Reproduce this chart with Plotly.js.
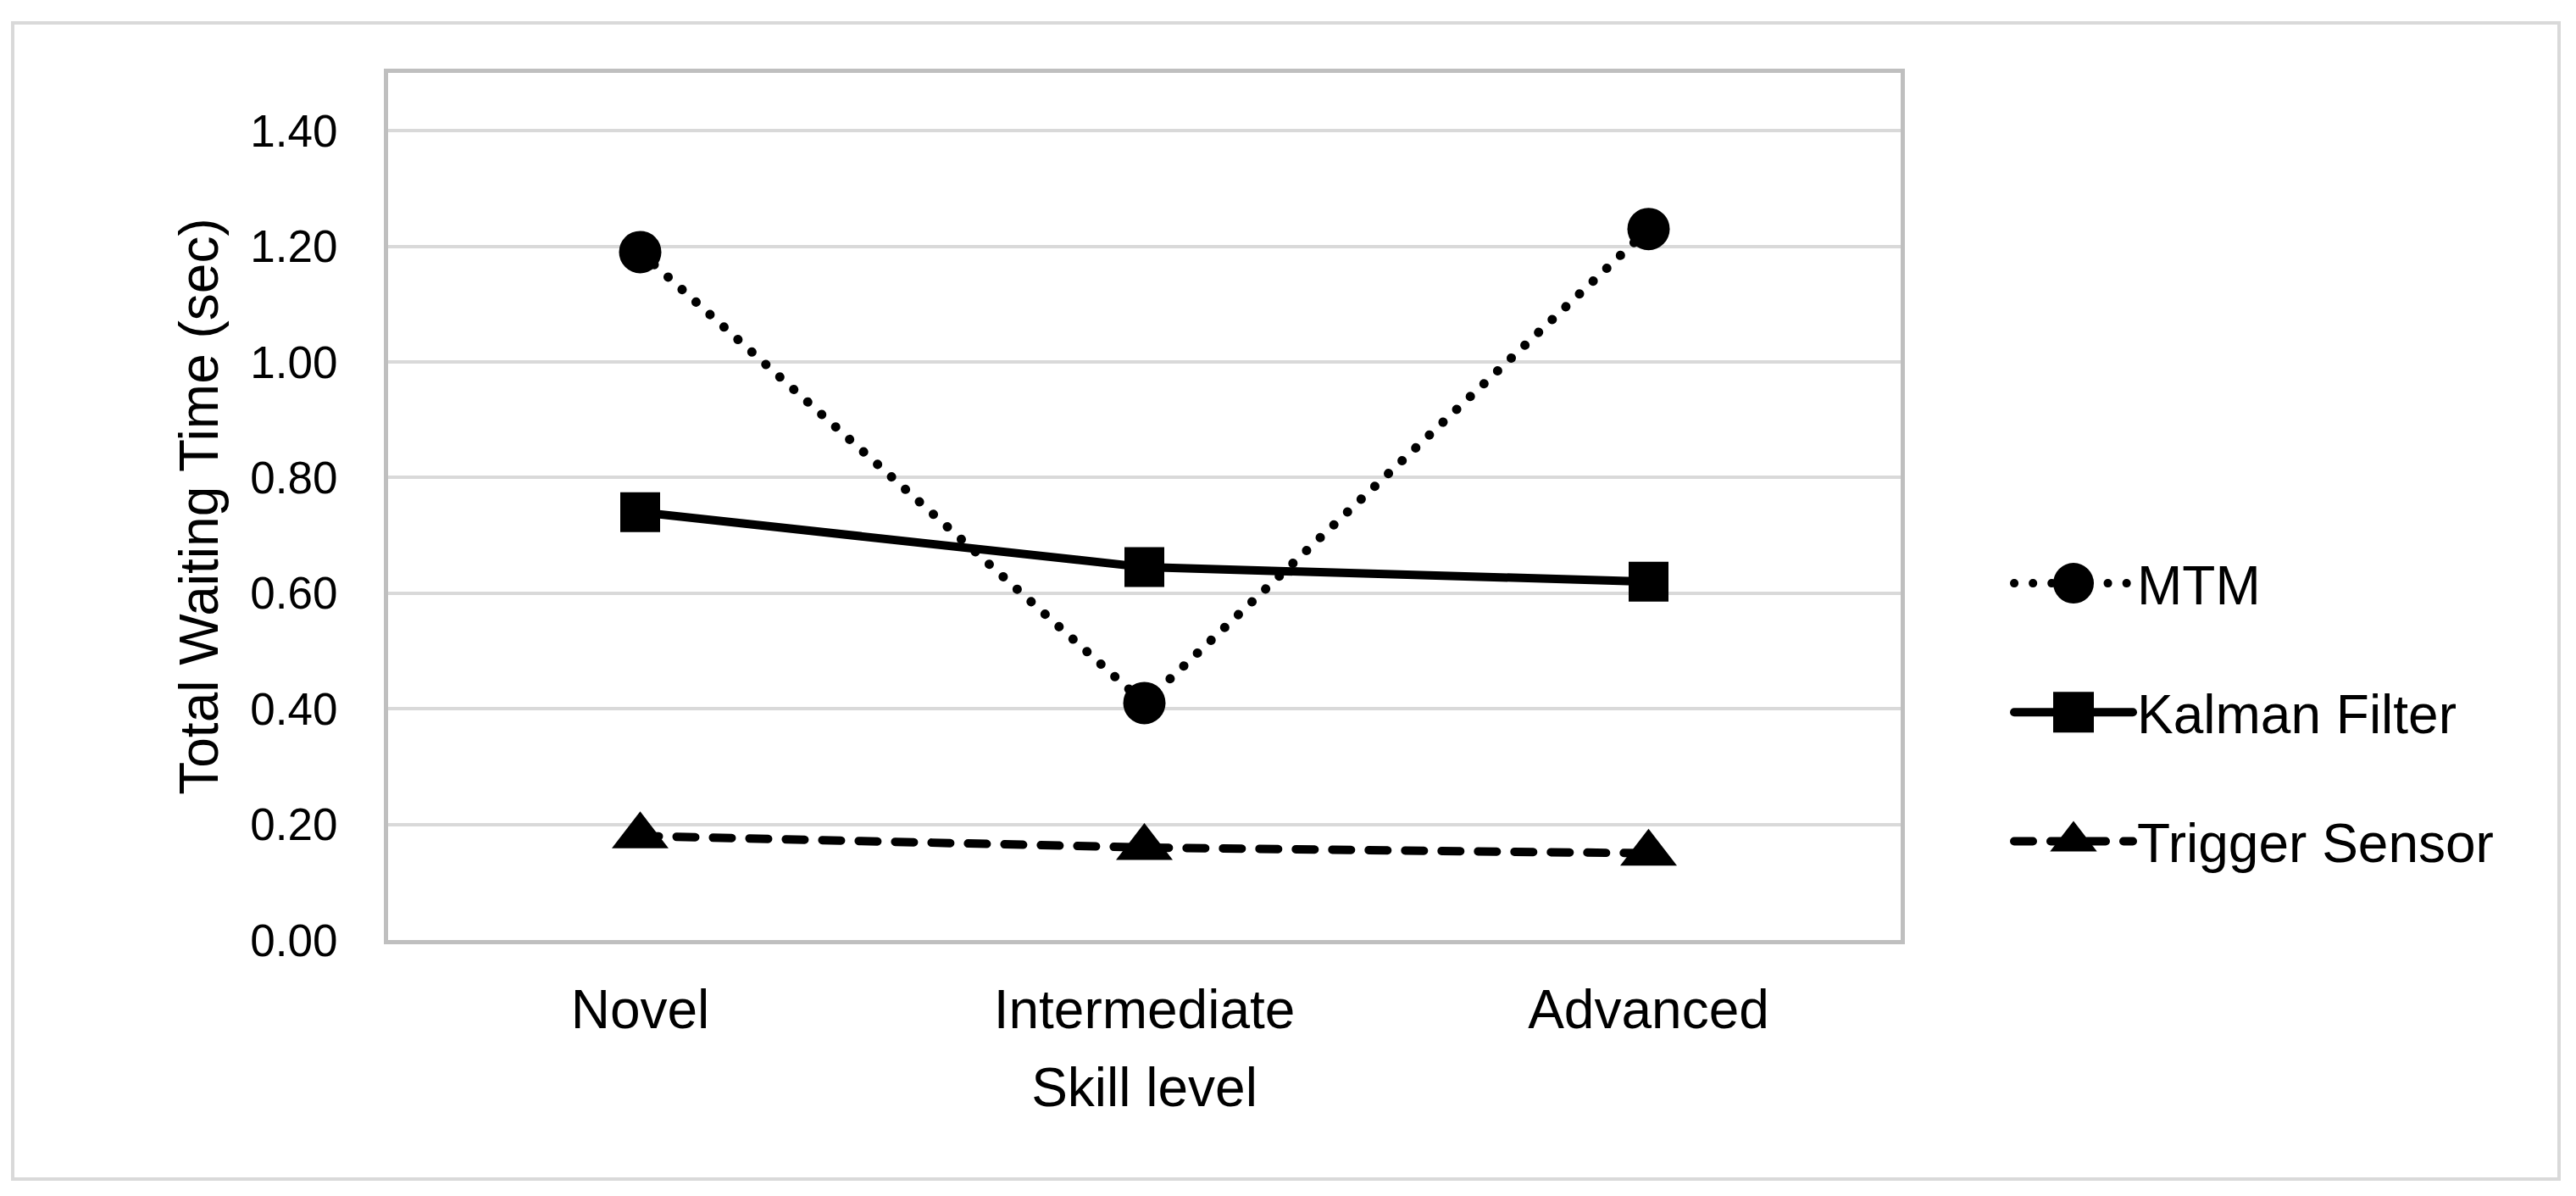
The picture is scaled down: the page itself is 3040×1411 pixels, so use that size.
<!DOCTYPE html>
<html><head><meta charset="utf-8">
<script src="https://cdn.plot.ly/plotly-3.0.1.min.js"></script>
<style>
html,body{margin:0;padding:0;background:#fff;}
#chart{width:3040px;height:1411px;}
.js-line{stroke-linecap:round;}
.legend .js-line{stroke-width:10px !important;}
</style></head>
<body><div id="chart"></div>
<script>
const categories = ["Novel", "Intermediate", "Advanced"];
const seriesNames = ["MTM", "Kalman Filter", "Trigger Sensor"];
const mtmValues = [1.19, 0.41, 1.23];
const kalmanValues = [0.74, 0.645, 0.62];
const triggerValues = [0.18, 0.16, 0.15];
const yTickValues = [0, 0.2, 0.4, 0.6, 0.8, 1.0, 1.2, 1.4];
const yTickLabels = ["0.00", "0.20", "0.40", "0.60", "0.80", "1.00", "1.20", "1.40"];
const xTitle = "Skill level";
const yTitle = "Total Waiting Time (sec)";

const W = 3040, H = 1411;
const plotL = 458, plotR = 2243, plotT = 86, plotB = 1109;
const pw = plotR - plotL, ph = plotB - plotT;
const px = v => (v - plotL) / pw;
const py = v => (plotB - v) / ph;
const FONT = "Liberation Sans, Arial, sans-serif";

const traces = [
  {x: categories, y: mtmValues, name: seriesNames[0], legendgroup: "a",
   mode: "lines+markers", line: {color: "#000", width: 11, dash: "0.1px,22px"},
   marker: {symbol: "circle", size: 50, color: "#000"}},
  {x: categories, y: kalmanValues, name: seriesNames[1], legendgroup: "b",
   mode: "lines+markers", line: {color: "#000", width: 10, dash: "solid"},
   marker: {symbol: "square", size: 47, color: "#000"}},
  {x: categories, y: triggerValues, name: seriesNames[2], legendgroup: "c",
   mode: "lines+markers", line: {color: "#000", width: 10, dash: "22px,21px"},
   marker: {symbol: "triangle-up", size: 58, color: "#000"}}
];

const layout = {
  width: W, height: H,
  paper_bgcolor: "#fff", plot_bgcolor: "#fff",
  margin: {l: plotL, r: W - plotR, t: plotT, b: H - plotB, pad: 0},
  font: {family: FONT, color: "#000", size: 64},
  showlegend: true,
  legend: {x: px(2372), y: py(640), xanchor: "left", yanchor: "top",
           font: {family: FONT, size: 64, color: "#000"},
           itemwidth: 140, tracegroupgap: 66, bgcolor: "rgba(0,0,0,0)"},
  xaxis: {type: "category", range: [-0.5, 2.5], showgrid: false, zeroline: false,
          showline: true, mirror: true, linecolor: "#bfbfbf", linewidth: 5,
          ticks: "", ticklabelstandoff: 22, tickfont: {family: FONT, size: 64, color: "#000"},
          fixedrange: true,
          title: {text: xTitle, font: {family: FONT, size: 64, color: "#000"}, standoff: 36},
          automargin: true},
  yaxis: {range: [0, 1.5], tickvals: yTickValues, ticktext: yTickLabels,
          showgrid: true, gridcolor: "#d9d9d9", gridwidth: 4, zeroline: false,
          showline: true, mirror: true, linecolor: "#bfbfbf", linewidth: 5,
          ticks: "", ticklabelstandoff: 44, tickfont: {family: FONT, size: 53, color: "#000"},
          fixedrange: true,
          title: {text: yTitle, font: {family: FONT, size: 64, color: "#000"}, standoff: 18},
          automargin: true},
  shapes: [{type: "rect", xref: "paper", yref: "paper",
            x0: px(15), x1: px(3020), y0: py(1391), y1: py(27),
            line: {color: "#d9d9d9", width: 4}, fillcolor: "rgba(0,0,0,0)", layer: "below"}]
};

Plotly.newPlot("chart", traces, layout, {displayModeBar: false, staticPlot: true}).then(gd => {
  // enlarge legend symbols to match the chart's marker size
  gd.querySelectorAll(".legend path.scatterpts").forEach(p => {
    const t = p.getAttribute("transform") || "";
    p.setAttribute("transform", t + " scale(3)");
  });
});
</script>
</body></html>
